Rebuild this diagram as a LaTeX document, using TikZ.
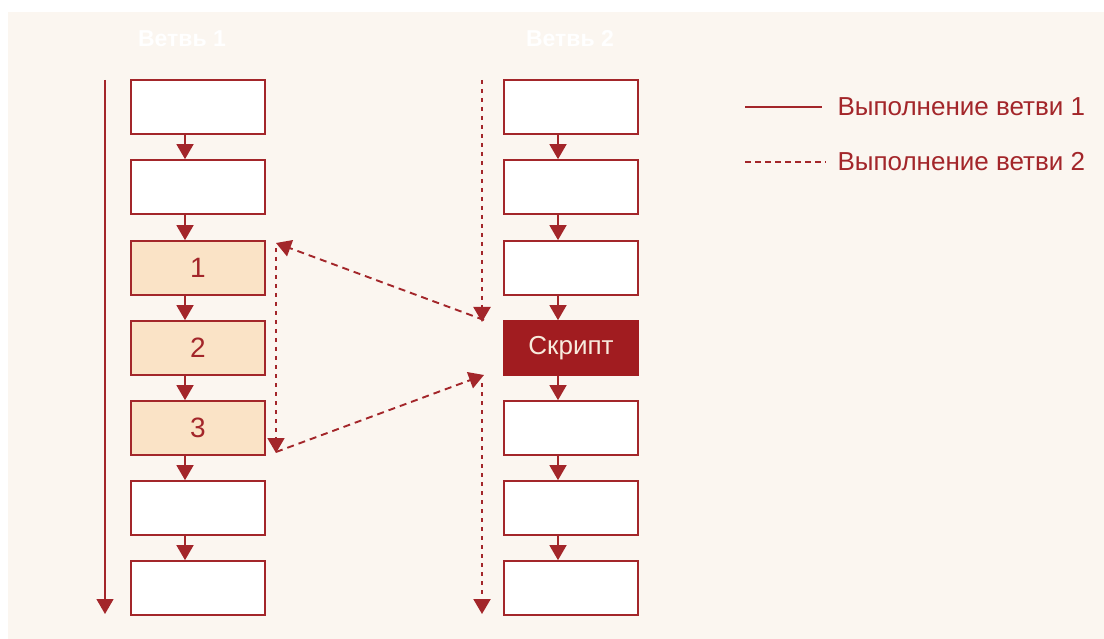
\documentclass[tikz,border=0pt]{standalone}
\usepackage{fontspec}
\setmainfont{Liberation Sans}
\usetikzlibrary{arrows.meta}
\definecolor{bg}{HTML}{FBF6F0}
\definecolor{wine}{HTML}{A3262A}
\definecolor{peach}{HTML}{FAE3C6}
\definecolor{scriptred}{HTML}{A11C20}
\definecolor{scripttext}{HTML}{F8EBDD}
\begin{document}
\begin{tikzpicture}[x=1pt,y=-1pt,
  blk/.style={draw=wine, line width=1.7pt, fill=white, minimum width=134pt,
    minimum height=54pt, inner sep=0pt, text=wine, font=\fontsize{26}{26}\selectfont},
  hl/.style={blk, fill=peach, font=\fontsize{28}{28}\selectfont},
  scriptbox/.style={blk, fill=scriptred, draw=scriptred, text=scripttext},
  flow/.style={draw=wine, line width=1.6pt, -{Triangle[width=17pt,length=15pt]}},
  dflow/.style={flow, line width=1.9pt, dash pattern=on 7pt off 5pt},
  vdash/.style={flow, line width=2.2pt, dash pattern=on 4pt off 5pt},
  title/.style={text=white, font=\bfseries\fontsize{23}{23}\selectfont},
  legend/.style={text=wine, anchor=west, font=\fontsize{26}{26}\selectfont}]
  % page and panel background
  \fill[white] (0,0) rectangle (1104,639);
  \fill[bg] (8,12) rectangle (1104,639);
  \useasboundingbox (0,0) rectangle (1104,639);

  % column headings
  \node[title] (t1) at (182,39) {Ветвь 1};
  \node[title] (t2) at (570,39) {Ветвь 2};

  % branch 1 blocks
  \node[blk] (a1) at (198,107) {};
  \node[blk] (a2) at (198,187) {};
  \node[hl]  (a3) at (198,268) {1};
  \node[hl]  (a4) at (198,348) {2};
  \node[hl]  (a5) at (198,428) {3};
  \node[blk] (a6) at (198,508) {};
  \node[blk] (a7) at (198,588) {};

  % branch 2 blocks
  \node[blk] (b1) at (571,107) {};
  \node[blk] (b2) at (571,187) {};
  \node[blk] (b3) at (571,268) {};
  \node[scriptbox] (b4) at (571,348) {Скрипт};
  \node[blk] (b5) at (571,428) {};
  \node[blk] (b6) at (571,508) {};
  \node[blk] (b7) at (571,588) {};

  % step arrows inside each column
  \foreach \u/\v in {a1/a2,a2/a3,a3/a4,a4/a5,a5/a6,a6/a7,b1/b2,b2/b3,b3/b4,b4/b5,b5/b6,b6/b7}
    \draw[flow] ([xshift=-13pt]\u.south) -- ([xshift=-13pt]\v.north);

  % execution of branch 1
  \coordinate (m1s) at (105,80);
  \coordinate (m1e) at (105,614);
  \draw[flow, line width=1.4pt] (m1s) -- (m1e);

  % execution of branch 2
  \coordinate (m2s) at (482,80);
  \coordinate (m2p) at (482,322);
  \coordinate (m2q) at (482,383);
  \coordinate (m2e) at (482,614);
  \coordinate (j1) at (276,243);
  \coordinate (j2) at (276,248);
  \coordinate (j3) at (276,453);
  \coordinate (j4) at (276,452);
  \coordinate (r1) at (484,320);
  \coordinate (r2) at (484,375);
  \draw[vdash] (m2s) -- (m2p);
  \draw[dflow] (r1) -- (j1);
  \draw[vdash, line width=1.8pt] (j2) -- (j3);
  \draw[dflow] (j4) -- (r2);
  \draw[vdash] (m2q) -- (m2e);

  % legend
  \coordinate (l1a) at (745,107);
  \coordinate (l1b) at (822,107);
  \coordinate (l2a) at (745,162);
  \coordinate (l2b) at (826,162);
  \draw[wine, line width=1.3pt] (l1a) -- (l1b);
  \draw[wine, line width=1.3pt, dash pattern=on 6pt off 4pt] (l2a) -- (l2b);
  \node[legend] (lg1) at (834,107) {Выполнение ветви 1};
  \node[legend] (lg2) at (834,162) {Выполнение ветви 2};
\end{tikzpicture}
\end{document}
